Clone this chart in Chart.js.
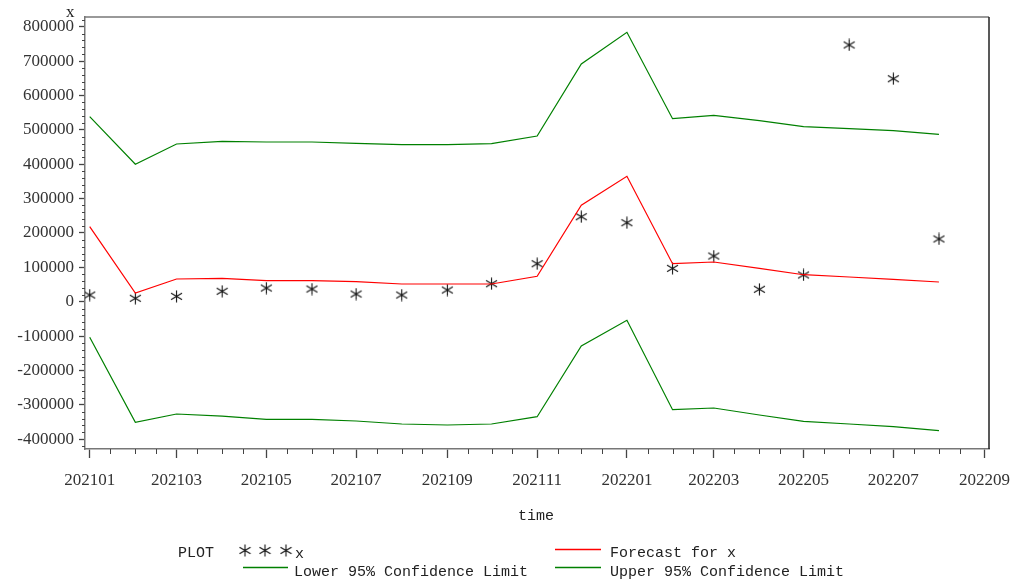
<!DOCTYPE html>
<html>
<head>
<meta charset="utf-8">
<script src="https://cdn.jsdelivr.net/npm/chart.js@4.4.1/dist/chart.umd.min.js"></script>
<style>
body { margin: 0; background: #fff; }
#wrap { position: relative; width: 1014px; height: 583px; }
#mycanvas { position: absolute; left: 0; top: 0; }
.lbl { position: absolute; font-family: "Liberation Mono", monospace; font-size: 15px; color: #222; white-space: pre; line-height: 1; }
</style>
</head>
<body>
<div id="wrap">
  <canvas id="mycanvas" width="1014" height="583"></canvas>
  <div class="lbl" style="left:66px;top:3px;font-family:'Liberation Serif',serif;font-size:17px">x</div>
  <div class="lbl" style="left:518px;top:509px">time</div>
  <div class="lbl" style="left:178px;top:546px">PLOT</div>
  <div class="lbl" style="left:295px;top:547px">x</div>
  <div class="lbl" style="left:610px;top:546px">Forecast for x</div>
  <div class="lbl" style="left:294px;top:565px">Lower 95% Confidence Limit</div>
  <div class="lbl" style="left:610px;top:565px">Upper 95% Confidence Limit</div>
</div>
<script>
// monthly observations, 202101 .. 202208
var months = ['202101','202102','202103','202104','202105','202106','202107','202108','202109','202110',
              '202111','202112','202201','202202','202203','202204','202205','202206','202207','202208'];
var actual   = [19500, 9900, 15700, 30300, 39800, 36900, 22400, 19500, 34000, 52400,
                110500, 247200, 229800, 97100, 132900, 36100, 77700, 746700, 648600, 182400];
var forecast = [218200, 25300, 66000, 68100, 61100, 61100, 58200, 51500, 51500, 51500,
                73900, 280400, 364800, 110500, 115500, 97100, 78500, 71800, 65200, 57300];
var lower95  = [-103500, -350800, -326600, -332500, -342100, -342100, -347000, -355700, -358600, -355700,
                -334500, -128900, -54100, -314100, -309200, -329600, -347900, -355700, -363600, -375200];
var upper95  = [538100, 399700, 458700, 466600, 464500, 464500, 460700, 456700, 456700, 459600,
                482000, 691400, 783600, 532300, 542200, 526500, 509000, 503200, 497400, 486900];
var xTickLabels = ['202101','202103','202105','202107','202109','202111','202201','202203','202205','202207','202209'];
var yTickValues = [-400000, -300000, -200000, -100000, 0, 100000, 200000, 300000, 400000, 500000, 600000, 700000, 800000];

// days since 2021-01-01, so the axis spaces months by their real length
var dayOf = function(ym, d) {
    var y = +ym.slice(0, 4), m = +ym.slice(4) - 1;
    return (Date.UTC(y, m, d || 1) - Date.UTC(2021, 0, 1)) / 86400000;
};
var toPoints = function(vals) {
    return months.map(function(m, i) { return {x: dayOf(m), y: vals[i]}; });
};

// SAS style asterisk marker
var star = document.createElement('canvas');
star.width = 13; star.height = 13;
(function() {
    var c = star.getContext('2d');
    c.strokeStyle = '#111';
    c.lineWidth = 1.1;
    c.beginPath();
    c.moveTo(6.5, 0.5); c.lineTo(6.5, 12.5);
    c.moveTo(1, 3.3); c.lineTo(12, 9.7);
    c.moveTo(1, 9.7); c.lineTo(12, 3.3);
    c.stroke();
})();

var tickFont = {family: 'Liberation Serif', size: 17};

var extras = {
    id: 'extras',
    afterDraw: function(chart) {
        var ctx = chart.ctx, a = chart.chartArea;
        var xs = chart.scales.x, ys = chart.scales.y;
        ctx.save();
        // frame top and right
        ctx.lineWidth = 1.5;
        ctx.strokeStyle = '#777';
        ctx.beginPath(); ctx.moveTo(a.left, a.top); ctx.lineTo(a.right, a.top); ctx.stroke();
        ctx.strokeStyle = '#222';
        ctx.beginPath(); ctx.moveTo(a.right, a.top); ctx.lineTo(a.right, a.bottom); ctx.stroke();
        // minor ticks
        ctx.lineWidth = 1;
        ctx.strokeStyle = '#444';
        ctx.beginPath();
        for (var v = -420000; v <= 820000; v += 20000) {
            if (v % 100000 === 0) continue;
            var py = Math.round(ys.getPixelForValue(v)) + 0.5;
            ctx.moveTo(a.left - 3, py); ctx.lineTo(a.left, py);
        }
        var allMonths = months.concat(['202209']);
        allMonths.forEach(function(m) {
            [1, 15].forEach(function(d) {
                if (d === 1 && xTickLabels.indexOf(m) >= 0) return;
                var px = Math.round(xs.getPixelForValue(dayOf(m, d))) + 0.5;
                if (px > a.right + 1) return;
                ctx.moveTo(px, a.bottom); ctx.lineTo(px, a.bottom + 5);
            });
        });
        ctx.stroke();
        // legend samples
        ctx.lineWidth = 1.3;
        ctx.strokeStyle = '#ff0000';
        ctx.beginPath(); ctx.moveTo(555, 549.5); ctx.lineTo(601, 549.5); ctx.stroke();
        ctx.strokeStyle = '#008000';
        ctx.beginPath();
        ctx.moveTo(243, 567.5); ctx.lineTo(288, 567.5);
        ctx.moveTo(555, 567.5); ctx.lineTo(601, 567.5);
        ctx.stroke();
        [245, 265, 286].forEach(function(sx) { ctx.drawImage(star, sx - 6.5, 544); });
        ctx.restore();
    }
};

var ctx = document.getElementById('mycanvas');
var chart = new Chart(ctx, {
    type: 'line',
    data: {
        datasets: [
            {label: 'Upper 95% Confidence Limit', data: toPoints(upper95), borderColor: '#008000', borderWidth: 1.2, pointRadius: 0, tension: 0},
            {label: 'Lower 95% Confidence Limit', data: toPoints(lower95), borderColor: '#008000', borderWidth: 1.2, pointRadius: 0, tension: 0},
            {label: 'Forecast for x', data: toPoints(forecast), borderColor: '#ff0000', borderWidth: 1.2, pointRadius: 0, tension: 0},
            {label: 'x', data: toPoints(actual), showLine: false, pointStyle: star, pointRadius: 7}
        ]
    },
    options: {
        responsive: false,
        animation: false,
        devicePixelRatio: 1,
        layout: {padding: {left: 0, right: 25, top: 17, bottom: 0}},
        plugins: {legend: {display: false}, tooltip: {enabled: false}},
        scales: {
            x: {
                type: 'linear',
                min: -3.2,
                max: 611,
                afterBuildTicks: function(s) {
                    s.ticks = xTickLabels.map(function(l) { return {value: dayOf(l)}; });
                },
                afterFit: function(s) {
                    s.height = 134;
                    s.paddingLeft = 0;
                    s.paddingRight = 0;
                },
                ticks: {
                    callback: function(v, i) { return xTickLabels[i]; },
                    autoSkip: false, maxRotation: 0, padding: 12,
                    font: tickFont, color: '#333'
                },
                grid: {drawOnChartArea: false, tickLength: 9, tickColor: '#444', tickWidth: 1.3},
                border: {color: '#777', width: 1.5}
            },
            y: {
                min: -428400,
                max: 828100,
                afterBuildTicks: function(s) {
                    s.ticks = yTickValues.map(function(v) { return {value: v}; });
                },
                afterFit: function(s) {
                    s.width = 85;
                    s.paddingTop = 0;
                    s.paddingBottom = 0;
                },
                ticks: {
                    autoSkip: false,
                    callback: function(v) { return String(v); },
                    padding: 5, font: tickFont, color: '#333'
                },
                grid: {drawOnChartArea: false, tickLength: 6, tickColor: '#444', tickWidth: 1.3},
                border: {color: '#777', width: 1.5}
            }
        }
    },
    plugins: [extras]
});
</script>
</body>
</html>
